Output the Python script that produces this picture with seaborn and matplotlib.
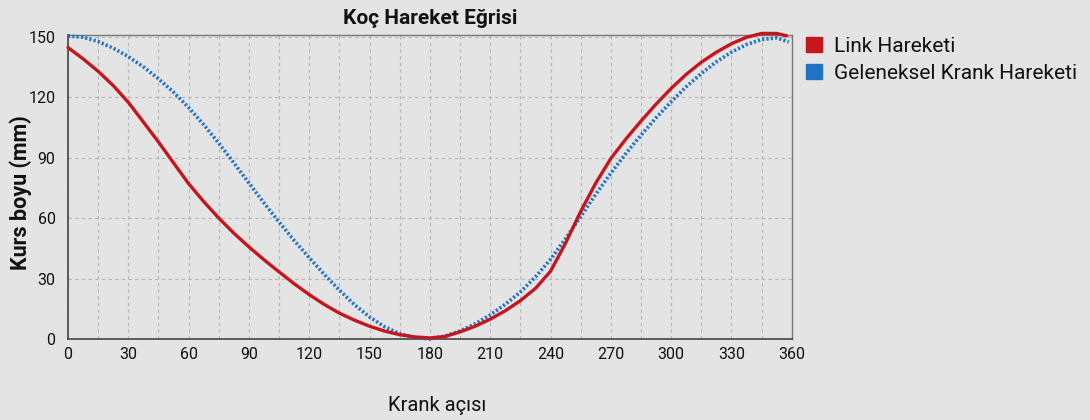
import pandas as pd
import seaborn as sns
import matplotlib.pyplot as plt
from matplotlib.patches import Patch
from matplotlib.ticker import MultipleLocator

# Curve values (crank angle in degrees, stroke in mm)
link_angle = [0, 7.5, 15, 22.5, 30, 37.5, 45, 52.5, 60, 67.5, 75, 82.5, 90, 97.5,
              105, 112.5, 120, 127.5, 135, 142.5, 150, 157.5, 165, 172.5, 180, 187.5,
              195, 202.5, 210, 217.5, 225, 232.5, 240, 247.5, 255, 262.5, 270, 277.5,
              285, 292.5, 300, 307.5, 315, 322.5, 330, 337.5, 345, 352.5, 357.5]
link_stroke = [144.7, 139.1, 132.9, 125.8, 117.5, 107.7, 97.8, 87.4, 77.1, 68.2, 60, 52.5,
               45.7, 39.3, 33.3, 27.4, 22, 17.1, 12.8, 9.3, 6.3, 3.9, 2.1, 1.0, 0.5, 1.2,
               3.5, 6.3, 9.8, 14, 19, 25.1, 33.6, 47.6, 63.3, 77.4, 89.6, 99.3,
               108.2, 116.6, 124.4, 131.4, 137.4, 142.4, 146.6, 149.8, 151.7, 151.7, 150.5]

crank_angle = [0, 7.5, 15, 22.5, 30, 37.5, 45, 52.5, 60, 67.5, 75, 82.5, 90, 97.5,
               105, 112.5, 120, 127.5, 135, 142.5, 150, 157.5, 165, 172.5, 180, 187.5,
               195, 202.5, 210, 217.5, 225, 232.5, 240, 247.5, 255, 262.5, 270, 277.5,
               285, 292.5, 300, 307.5, 315, 322.5, 330, 337.5, 345, 352.5, 358.5]
crank_stroke = [150.5, 149.8, 147.7, 144.4, 140.2, 135.1, 129.2, 122.5, 114.9, 106.4, 97.2, 87.4,
                77.4, 67.5, 58.0, 48.9, 40.3, 32.0, 24.2, 17.0, 10.9, 6.0, 2.6, 0.6, 0, 1.4,
                4, 7.5, 11.9, 17.2, 23.3, 30.8, 39.5, 49.8, 60.8, 71.8, 82.3, 92.1,
                101.2, 109.8, 117.8, 125.2, 131.8, 137.6, 142.4, 146.2, 148.7, 149.5, 147.5]

series_names = ['Link Hareketi', 'Geleneksel Krank Hareketi']
series_colors = ['#c4161c', '#1f72c4']

x_ticks = list(range(0, 361, 30))
y_ticks = [0, 30, 60, 90, 120, 150]

link_df = pd.DataFrame({'angle': link_angle, 'stroke': link_stroke})
crank_df = pd.DataFrame({'angle': crank_angle, 'stroke': crank_stroke})

sns.set_style('white')
plt.rcParams['font.family'] = ['Roboto', 'DejaVu Sans']
plt.rcParams['text.color'] = '#111111'
plt.rcParams['axes.labelcolor'] = '#111111'
bg = '#e4e4e4'

fig = plt.figure(figsize=(10.9, 4.2), dpi=100, facecolor=bg)
ax = fig.add_axes([0.0624, 0.193, 0.664, 0.724])
ax.set_facecolor(bg)

sns.lineplot(data=crank_df, x='angle', y='stroke', ax=ax, color=series_colors[1],
             linewidth=2.6, linestyle=(0, (0.6, 0.6)), zorder=3, clip_on=False)
sns.lineplot(data=link_df, x='angle', y='stroke', ax=ax, color=series_colors[0],
             linewidth=2.4, zorder=4, clip_on=False)

ax.set_xlim(0, 360)
ax.set_ylim(0, 151)
ax.set_xticks(x_ticks)
ax.set_yticks(y_ticks)
ax.xaxis.set_minor_locator(MultipleLocator(15))
ax.grid(True, which='major', color='#b4b4b4', linestyle=(0, (3, 3)), linewidth=0.8)
ax.grid(True, which='minor', axis='x', color='#b4b4b4', linestyle=(0, (3, 3)), linewidth=0.8)
ax.set_axisbelow(True)
ax.tick_params(axis='both', which='both', length=0, labelsize=11.5, colors='#111111')
ax.tick_params(axis='x', pad=6)
ax.tick_params(axis='y', pad=9)

for side in ['top', 'right']:
    ax.spines[side].set_color('#777777')
    ax.spines[side].set_linewidth(1.0)
for side in ['left', 'bottom']:
    ax.spines[side].set_color('#444444')
    ax.spines[side].set_linewidth(1.2)

ax.set_title('Koç Hareket Eğrisi', fontsize=15, fontweight='bold', pad=8)
ax.set_xlabel('Krank açısı', fontsize=14.5)
ax.set_ylabel('Kurs boyu (mm)', fontsize=15.5, fontweight='bold')
ax.xaxis.set_label_coords(0.51, -0.188)
ax.yaxis.set_label_coords(-0.05, 0.48)

handles = [Patch(facecolor=c, edgecolor=c) for c in series_colors]
ax.legend(handles, series_names, loc='upper left', bbox_to_anchor=(1.008, 1.02),
          frameon=False, fontsize=15, handlelength=0.75, handleheight=0.75,
          handletextpad=0.6, labelspacing=0.38, borderaxespad=0)

fig.savefig('out.png', dpi=100, facecolor=bg)
